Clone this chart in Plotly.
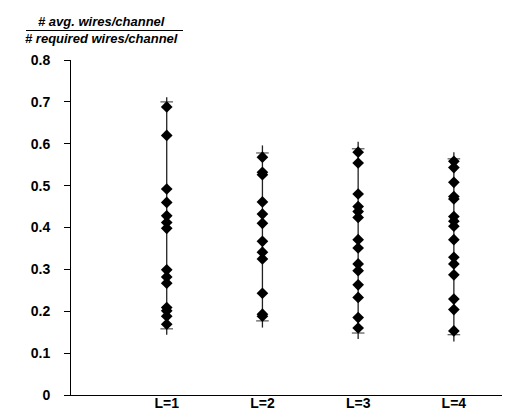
import plotly.graph_objects as go

categories = ["L=1", "L=2", "L=3", "L=4"]
cat_pos = [1, 2, 3, 4]

ratio_L1 = [0.688, 0.620, 0.492, 0.460, 0.428, 0.412, 0.398, 0.299, 0.282, 0.267,
            0.209, 0.201, 0.188, 0.169]
ratio_L2 = [0.568, 0.532, 0.526, 0.461, 0.432, 0.410, 0.367, 0.341, 0.325, 0.243,
            0.193, 0.188]
ratio_L3 = [0.580, 0.554, 0.480, 0.450, 0.438, 0.424, 0.371, 0.351, 0.313, 0.297,
            0.263, 0.233, 0.185, 0.160]
ratio_L4 = [0.558, 0.543, 0.508, 0.474, 0.468, 0.426, 0.415, 0.403, 0.371, 0.329,
            0.313, 0.287, 0.229, 0.204, 0.153]
all_ratios = [ratio_L1, ratio_L2, ratio_L3, ratio_L4]

line_high = [0.711, 0.596, 0.605, 0.580]
line_low = [0.144, 0.161, 0.134, 0.128]
cap_high = [0.700, 0.578, 0.588, 0.564]
cap_low = [0.158, 0.177, 0.148, 0.144]

y_ticks = [0, 0.1, 0.2, 0.3, 0.4, 0.5, 0.6, 0.7, 0.8]

fig = go.Figure()

# vertical range lines
for p, lo, hi in zip(cat_pos, line_low, line_high):
    fig.add_trace(go.Scatter(x=[p, p], y=[lo, hi], mode="lines",
                             line=dict(color="#222222", width=1.3),
                             showlegend=False, hoverinfo="skip"))

# caps
fig.add_trace(go.Scatter(x=cat_pos + cat_pos, y=cap_high + cap_low, mode="markers",
                         marker=dict(symbol="line-ew", size=9,
                                     line=dict(color="#555555", width=1.2)),
                         showlegend=False, hoverinfo="skip"))

# diamonds
for p, vals in zip(cat_pos, all_ratios):
    fig.add_trace(go.Scatter(x=[p] * len(vals), y=vals, mode="markers",
                             marker=dict(symbol="diamond", size=9, color="black"),
                             showlegend=False))

font_fam = "Liberation Sans, Arial, sans-serif"

fig.update_layout(
    width=510, height=411,
    margin=dict(l=63, r=0, t=52, b=24),
    paper_bgcolor="white", plot_bgcolor="white",
    font=dict(family=font_fam, size=14, color="black"),
    xaxis=dict(range=[0, 4.67], tickvals=cat_pos, ticktext=["<b>%s</b>" % c for c in categories],
               showline=True, linecolor="black", linewidth=1,
               showgrid=False, zeroline=False, ticks="", ticklabelstandoff=-5,
               tickfont=dict(family=font_fam, size=14, color="black")),
    yaxis=dict(range=[0, 0.8], tickvals=y_ticks,
               ticktext=[("<b>%g</b>" % v) for v in y_ticks],
               showline=True, linecolor="black", linewidth=1,
               showgrid=False, zeroline=False, ticks="outside", ticklen=6,
               tickcolor="black", ticklabelstandoff=11,
               tickfont=dict(family=font_fam, size=14, color="black")),
)

W = 447.0
H = 335.0
def px_x(px):
    return (px - 63) / W
def px_y(py):
    return (387 - py) / H

fig.add_annotation(text="<b><i># avg. wires/channel</i></b>", xref="paper", yref="paper",
                   x=px_x(93), y=px_y(14), showarrow=False, xanchor="center",
                   yanchor="middle", font=dict(family=font_fam, size=13, color="black"))
fig.add_annotation(text="<b><i># required wires/channel</i></b>", xref="paper", yref="paper",
                   x=px_x(93), y=px_y(31), showarrow=False, xanchor="center",
                   yanchor="middle", font=dict(family=font_fam, size=13, color="black"))
fig.add_shape(type="line", xref="paper", yref="paper",
              x0=px_x(18), x1=px_x(175), y0=px_y(22.5), y1=px_y(22.5),
              line=dict(color="black", width=1))

fig.write_html("out.html")
